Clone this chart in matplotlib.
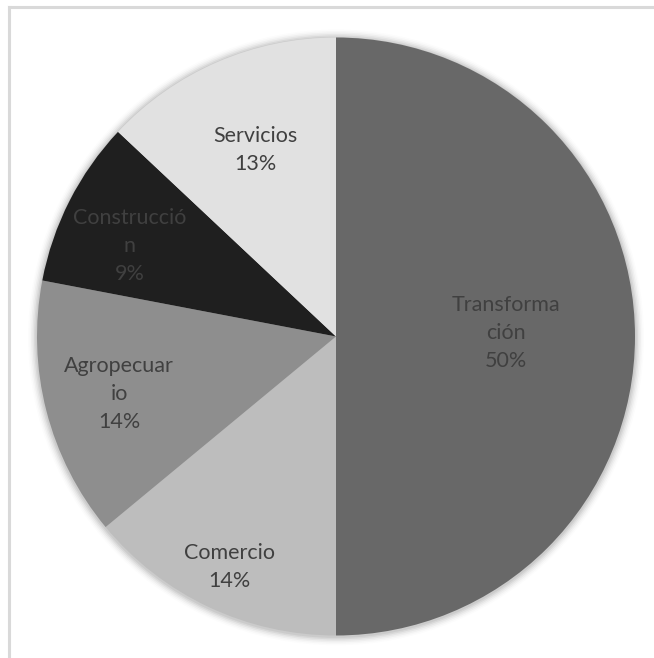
import numpy as np
import matplotlib
matplotlib.use("Agg")
import matplotlib.pyplot as plt
from matplotlib.patches import Circle
from matplotlib.lines import Line2D

categories = ["Transformación", "Comercio", "Agropecuario", "Construcción", "Servicios"]
values = [50, 14, 14, 9, 13]
label_texts = ["Transforma\nción", "Comercio", "Agropecuar\nio", "Construcció\nn", "Servicios"]
colors = ["#686868", "#bdbdbd", "#8e8e8e", "#1f1f1f", "#e1e1e1"]
label_dist = [0.57, 0.85, 0.75, 0.753, 0.68]
label_rot = [1.3, 0.4, 0.4, 3.2, 0.1]

W, H = 654, 658
fig = plt.figure(figsize=(W / 100, H / 100), dpi=100)
fig.patch.set_facecolor("white")

cx, cy, r = 336, 336.5, 299
ax = fig.add_axes([(cx - r * 1.05) / W, (H - cy - r * 1.05) / H, 2.1 * r / W, 2.1 * r / H])

# soft shadow
for i, a in enumerate(np.linspace(0.06, 0.01, 6)):
    ax.add_patch(Circle((0, -0.003), 1.0 + 0.005 * (i + 1), color="black", alpha=a, lw=0, zorder=0))

wedges, _ = ax.pie(values, colors=colors, startangle=90, counterclock=False,
                   radius=1.0, center=(0, 0), frame=False,
                   wedgeprops=dict(linewidth=0))
for w in wedges:
    w.set_zorder(2)

for w, txt, v, d, rot in zip(wedges, label_texts, values, label_dist, label_rot):
    ang = np.deg2rad((w.theta1 + w.theta2) / 2 + rot)
    ax.text(d * np.cos(ang), d * np.sin(ang), f"{txt}\n{v}%", ha="center", va="center",
            fontsize=15.5, family="Lato", color="#404040", linespacing=1.5, zorder=5)

ax.set_xlim(-1.05, 1.05)
ax.set_ylim(-1.05, 1.05)
ax.set_aspect("auto")
ax.axis("off")

# frame lines (top and left visible)
fig.add_artist(Line2D([9 / W, 1], [1 - 7 / H, 1 - 7 / H], color="#d9d9d9", lw=2.2, transform=fig.transFigure))
fig.add_artist(Line2D([9 / W, 9 / W], [0, 1 - 7 / H], color="#d9d9d9", lw=2.2, transform=fig.transFigure))

fig.savefig("out.png", dpi=100, facecolor="white")
